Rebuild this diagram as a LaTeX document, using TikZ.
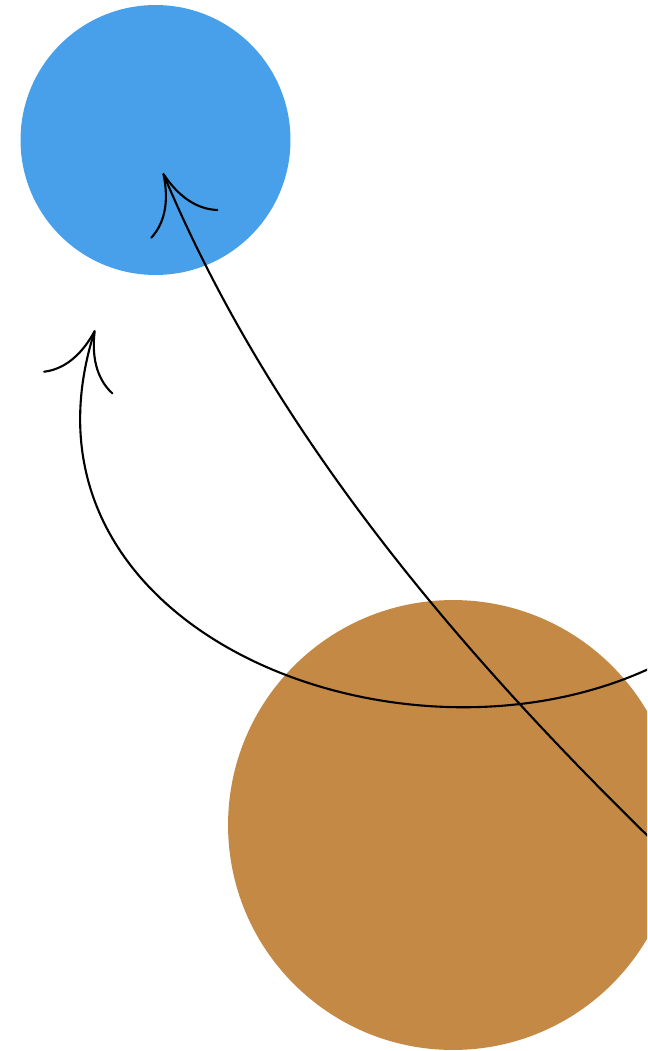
\documentclass[tikz,border=0pt]{standalone}
\usepackage{tikz}
\usetikzlibrary{arrows.meta}

\definecolor{skyblue}{HTML}{49A0EA}
\definecolor{ochre}{HTML}{C48945}

\begin{document}
\begin{tikzpicture}[
    x=0.02cm, y=-0.02cm,
    blob/.style={circle, inner sep=0pt, draw=none},
    arr/.style={-{Computer Modern Rightarrow[length=32pt, width=42pt]}, line width=1.2pt}
]
\clip (0,0) rectangle (647,1051);

\node[blob, fill=skyblue, minimum size=5.4cm] (small) at (155.5,140) {};
\node[blob, fill=ochre, minimum size=9cm] (big) at (453,825) {};

% arrow ends
\coordinate (srcA) at (657,665);
\coordinate (tipA) at (95,330);
\coordinate (srcB) at (655,843);
\coordinate (tipB) at (163,173);

\draw[arr] (srcA) .. controls (405,788) and (-1,632) .. (tipA);
\draw[arr] (srcB) .. controls (452,645) and (270,428) .. (tipB);
\end{tikzpicture}
\end{document}
